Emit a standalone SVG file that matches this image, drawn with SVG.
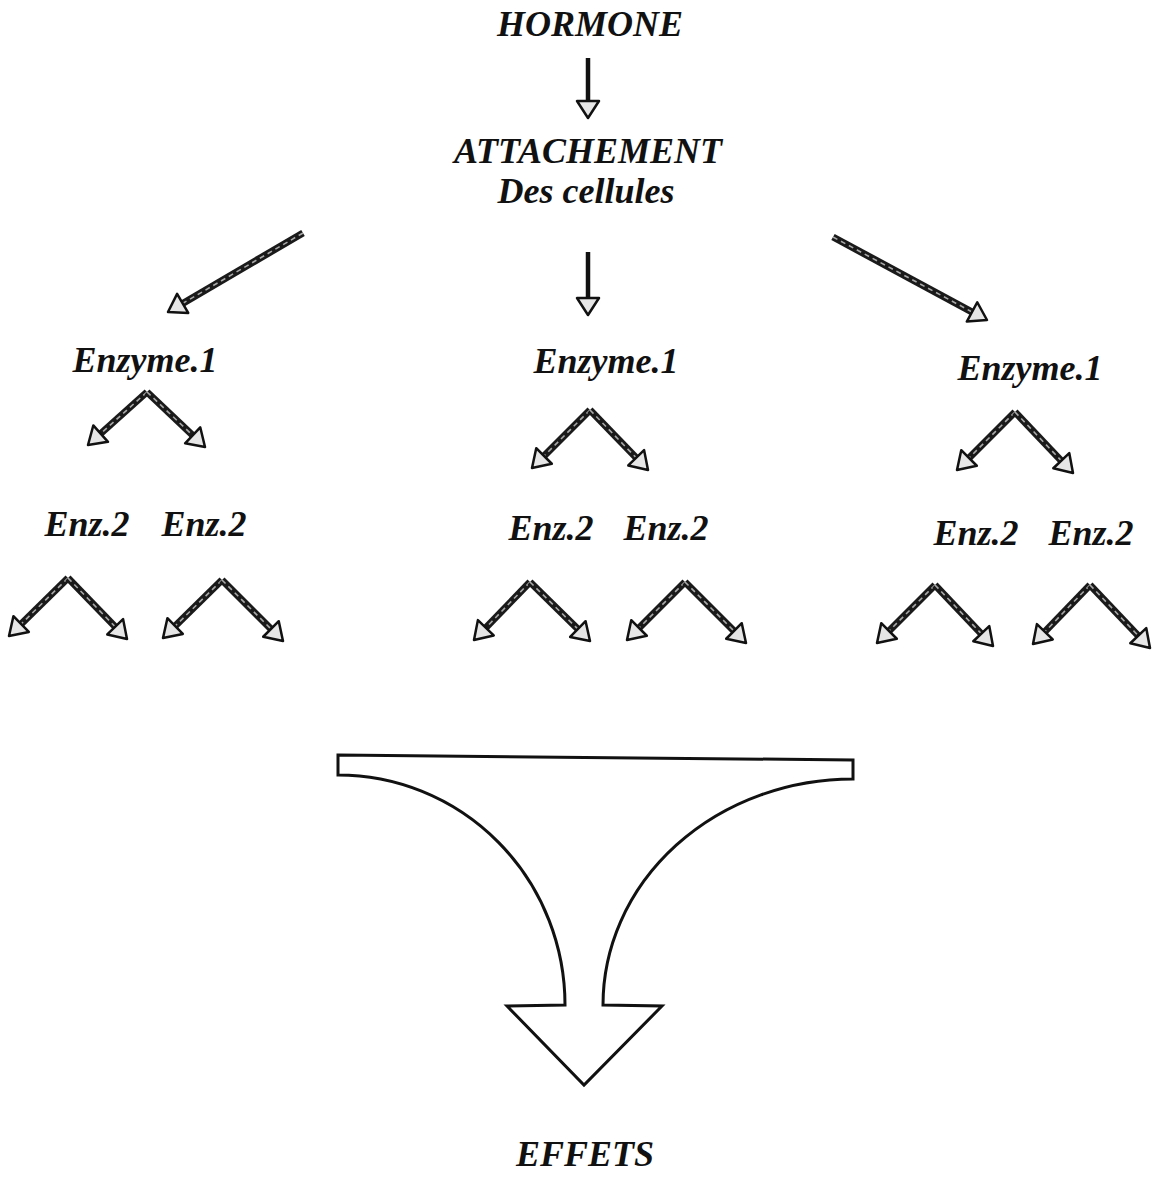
<svg xmlns="http://www.w3.org/2000/svg" width="1153" height="1177" viewBox="0 0 1153 1177">
<style>
text{font-family:"Liberation Serif","Times New Roman",serif;font-style:italic;font-weight:bold;font-size:36px;fill:#111;text-anchor:middle}
.o{stroke:#1a1a1a;stroke-width:7;stroke-linecap:butt;fill:none}
.i{stroke:#a8a8a8;stroke-width:1.6;stroke-dasharray:5 4;fill:none}
.v{stroke:#111;stroke-width:4.5;fill:none}
.big{fill:#fff;stroke:#111;stroke-width:3;stroke-linejoin:miter}
</style>
<defs>
<marker id="h" markerUnits="userSpaceOnUse" markerWidth="24" markerHeight="24" refX="17" refY="11" orient="auto" overflow="visible">
<path d="M0,0 L17,11 L0,22 Z" fill="#e6e6e6" stroke="#111" stroke-width="2.5" stroke-linejoin="round"/>
</marker>
</defs>
<g id="hormone"><text x="590" y="36">HORMONE</text></g>
<g id="attachement"><text x="588" y="163">ATTACHEMENT</text><text x="586" y="203">Des cellules</text></g>
<g id="enzyme1-left"><text x="145" y="372">Enzyme.1</text></g>
<g id="enzyme1-mid"><text x="606" y="373">Enzyme.1</text></g>
<g id="enzyme1-right"><text x="1030" y="380">Enzyme.1</text></g>
<g id="enz2-l1"><text x="87" y="536">Enz.2</text></g>
<g id="enz2-l2"><text x="204" y="536">Enz.2</text></g>
<g id="enz2-m1"><text x="551" y="540">Enz.2</text></g>
<g id="enz2-m2"><text x="666" y="540">Enz.2</text></g>
<g id="enz2-r1"><text x="976" y="545">Enz.2</text></g>
<g id="enz2-r2"><text x="1091" y="545">Enz.2</text></g>
<g id="effets"><text x="585" y="1166">EFFETS</text></g>
<g id="big-arrow">
<path class="big" d="M338,755 L853,760 L853,779 A250,226 0 0 0 603,1005 L662,1006 L584,1085 L507,1006 L565,1005 A227,230 0 0 0 338,775 Z"/>
</g>
<g id="connectors">
<line class="v" x1="588" y1="58" x2="588" y2="103"/>
<line x1="588" y1="58" x2="588" y2="118" stroke="none" marker-end="url(#h)"/>
<line class="v" x1="588" y1="252" x2="588" y2="300"/>
<line x1="588" y1="252" x2="588" y2="315" stroke="none" marker-end="url(#h)"/>
<g>
<line class="o" x1="303" y1="233" x2="178.4" y2="305.9"/><line class="i" x1="303" y1="233" x2="168" y2="312" marker-end="url(#h)"/>
<line class="o" x1="833" y1="237" x2="976.4" y2="314.3"/><line class="i" x1="833" y1="237" x2="987" y2="320" marker-end="url(#h)"/>
</g>
<g>
<line class="o" x1="147" y1="392" x2="96.9" y2="437"/><line class="i" x1="147" y1="392" x2="88" y2="445" marker-end="url(#h)"/>
<line class="o" x1="147" y1="392" x2="196.3" y2="438.7"/><line class="i" x1="147" y1="392" x2="205" y2="447" marker-end="url(#h)"/>
<line class="o" x1="590" y1="410" x2="540.5" y2="459.5"/><line class="i" x1="590" y1="410" x2="532" y2="468" marker-end="url(#h)"/>
<line class="o" x1="590" y1="410" x2="639.7" y2="461.4"/><line class="i" x1="590" y1="410" x2="648" y2="470" marker-end="url(#h)"/>
<line class="o" x1="1015" y1="412" x2="965.5" y2="461.5"/><line class="i" x1="1015" y1="412" x2="957" y2="470" marker-end="url(#h)"/>
<line class="o" x1="1015" y1="412" x2="1064.7" y2="464.3"/><line class="i" x1="1015" y1="412" x2="1073" y2="473" marker-end="url(#h)"/>
</g>
<g>
<line class="o" x1="68" y1="578" x2="17.6" y2="627.6"/><line class="i" x1="68" y1="578" x2="9" y2="636" marker-end="url(#h)"/>
<line class="o" x1="68" y1="578" x2="118.7" y2="630.4"/><line class="i" x1="68" y1="578" x2="127" y2="639" marker-end="url(#h)"/>
<line class="o" x1="222" y1="580" x2="171.6" y2="629.6"/><line class="i" x1="222" y1="580" x2="163" y2="638" marker-end="url(#h)"/>
<line class="o" x1="222" y1="580" x2="274.5" y2="632.5"/><line class="i" x1="222" y1="580" x2="283" y2="641" marker-end="url(#h)"/>
<line class="o" x1="530" y1="582" x2="482.3" y2="631.4"/><line class="i" x1="530" y1="582" x2="474" y2="640" marker-end="url(#h)"/>
<line class="o" x1="530" y1="582" x2="581.4" y2="632.6"/><line class="i" x1="530" y1="582" x2="590" y2="641" marker-end="url(#h)"/>
<line class="o" x1="685" y1="582" x2="635.5" y2="631.5"/><line class="i" x1="685" y1="582" x2="627" y2="640" marker-end="url(#h)"/>
<line class="o" x1="685" y1="582" x2="737.5" y2="634.5"/><line class="i" x1="685" y1="582" x2="746" y2="643" marker-end="url(#h)"/>
<line class="o" x1="935" y1="585" x2="885.5" y2="634.5"/><line class="i" x1="935" y1="585" x2="877" y2="643" marker-end="url(#h)"/>
<line class="o" x1="935" y1="585" x2="984.7" y2="637.3"/><line class="i" x1="935" y1="585" x2="993" y2="646" marker-end="url(#h)"/>
<line class="o" x1="1090" y1="585" x2="1041.3" y2="635.4"/><line class="i" x1="1090" y1="585" x2="1033" y2="644" marker-end="url(#h)"/>
<line class="o" x1="1090" y1="585" x2="1141.7" y2="639.3"/><line class="i" x1="1090" y1="585" x2="1150" y2="648" marker-end="url(#h)"/>
</g>
</g>
</svg>
